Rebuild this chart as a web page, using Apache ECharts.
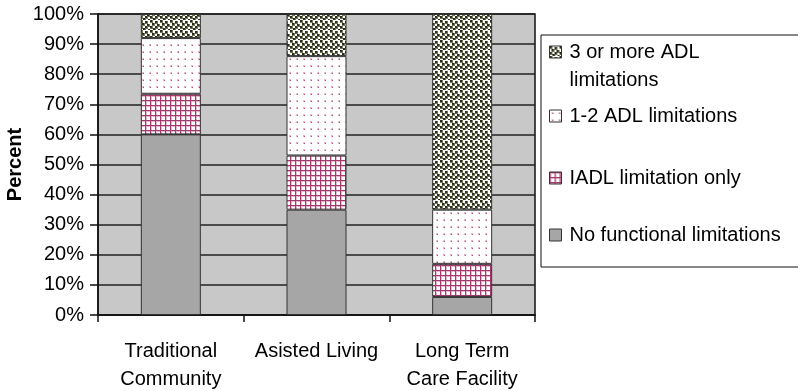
<!DOCTYPE html>
<html>
<head>
<meta charset="utf-8">
<script src="https://cdn.jsdelivr.net/npm/echarts@6/dist/echarts.min.js"></script>
<style>
html,body{margin:0;padding:0;background:#fff;}
#chart{width:798px;height:391px;}
</style>
</head>
<body>
<div id="chart"></div>
<script>
// ---- data ----
const categories = ['Traditional\nCommunity', 'Asisted Living', 'Long Term\nCare Facility'];
const seriesNames = ['No functional limitations', 'IADL limitation only', '1-2 ADL limitations', '3 or more ADL limitations'];
const noFunctional = [60, 35, 6];
const iadlOnly = [13.5, 18, 11];
const adl12 = [18.5, 33, 18];
const adl3plus = [8, 14, 65];
const yTicks = [0, 10, 20, 30, 40, 50, 60, 70, 80, 90, 100];

// ---- patterns ----
function makePattern(w, h, draw) {
  const c = document.createElement('canvas');
  c.width = w; c.height = h;
  const ctx = c.getContext('2d');
  ctx.fillStyle = '#ffffff';
  ctx.fillRect(0, 0, w, h);
  draw(ctx);
  return { image: c, repeat: 'repeat' };
}
const patGrid = makePattern(5, 5, ctx => {
  ctx.fillStyle = '#e8b8cf';
  ctx.fillRect(0, 0, 5, 2);
  ctx.fillRect(0, 0, 2, 5);
  ctx.fillStyle = '#a33a6e';
  ctx.fillRect(0, 0, 5, 1);
  ctx.fillRect(0, 0, 1, 5);
});
const patDots = makePattern(7, 7, ctx => {
  ctx.fillStyle = '#e6b6cc';
  ctx.fillRect(2, 2, 2, 2);
  ctx.fillStyle = '#b54c82';
  ctx.fillRect(3, 3, 1, 1);
});
const patDense = makePattern(10, 10, ctx => {
  const pts = [[0,0],[5,1],[2,3],[7,4],[0,6],[5,6],[3,8],[8,9]];
  ctx.fillStyle = '#73755a';
  pts.forEach(p => { ctx.fillRect(p[0], p[1], 3, 3); });
  ctx.fillStyle = '#2a2e1a';
  pts.forEach(p => { ctx.fillRect(p[0], p[1], 2, 2); });
});

const fills = ['#a6a6a6', patGrid, patDots, patDense];
const dataArr = [noFunctional, iadlOnly, adl12, adl3plus];

const FONT = 'Liberation Sans, Arial, sans-serif';

const series = seriesNames.map((name, i) => ({
  name: name,
  type: 'bar',
  stack: 'total',
  barWidth: 60,
  data: dataArr[i],
  itemStyle: { color: fills[i], borderColor: '#333', borderWidth: 1 },
  emphasis: { disabled: true }
}));

// legend items placed individually
const legendTops = [10, 102, 164, 221];
const legendOrder = [3, 2, 1, 0];
const legends = legendOrder.map((si, k) => ({
  data: [seriesNames[si]],
  left: 549,
  top: legendTops[k],
  padding: 0,
  itemWidth: 12,
  itemHeight: 12,
  icon: 'rect',
  selectedMode: false,
  itemStyle: { borderColor: '#333', borderWidth: 1 },
  formatter: si === 3 ? ' \n{name|3 or more ADL}\n{name|limitations}' : '{name|{name}}',
  textStyle: {
    fontFamily: FONT, fontSize: 20, color: '#000', lineHeight: 28,
    rich: { name: { fontFamily: FONT, fontSize: 20, color: '#000', lineHeight: 28, padding: [0, 0, 0, 3] } }
  }
}));

const chart = echarts.init(document.getElementById('chart'), null, { renderer: 'canvas' });
chart.setOption({
  animation: false,
  backgroundColor: '#ffffff',
  grid: {
    left: 98, top: 14, width: 437, height: 301,
    outerBoundsMode: 'none',
    containLabel: false,
    show: true, backgroundColor: '#c8c8c8', borderColor: '#111', borderWidth: 1.5
  },
  graphic: [{
    type: 'rect',
    shape: { x: 541, y: 35, width: 262, height: 232 },
    style: { fill: '#ffffff', stroke: '#111', lineWidth: 1 },
    z: -1
  }],
  legend: legends,
  xAxis: {
    type: 'category',
    data: categories,
    axisLine: { lineStyle: { color: '#111', width: 1.5 } },
    axisTick: { show: true, length: 7, interval: 0, lineStyle: { color: '#111', width: 1.5 } },
    axisLabel: { fontFamily: FONT, fontSize: 20, color: '#000', lineHeight: 28, margin: 22, interval: 0 }
  },
  yAxis: {
    type: 'value',
    min: yTicks[0], max: yTicks[yTicks.length - 1], interval: 10,
    name: 'Percent',
    nameLocation: 'middle',
    nameGap: 73,
    nameMoveOverlap: false,
    nameTextStyle: { fontFamily: FONT, fontSize: 20, fontWeight: 'bold', color: '#000' },
    axisLine: { show: true, lineStyle: { color: '#111', width: 1.5 } },
    axisTick: { show: true, length: 8, lineStyle: { color: '#111', width: 1.5 } },
    axisLabel: { fontFamily: FONT, fontSize: 20, color: '#000', margin: 14, formatter: '{value}%' },
    splitLine: { show: true, lineStyle: { color: '#222', width: 1.5 } }
  },
  series: series
});
</script>
</body>
</html>
